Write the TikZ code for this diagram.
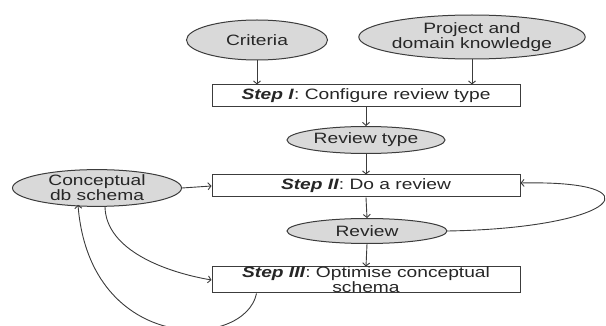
\documentclass[tikz,border=0pt]{standalone}
\usepackage{fontspec}
\setmainfont{Liberation Sans}[FakeStretch=1.28]
\usepackage{tikz}
\usetikzlibrary{calc, shapes.geometric, arrows.meta}
\definecolor{EdgeGrey}{RGB}{ 60, 60, 60}
\definecolor{BlobGrey}{RGB}{ 217, 217, 217}

\begin{document}
\begin{tikzpicture}[x=1pt, y=-1pt]
      \tikzstyle{blob}=[draw=EdgeGrey, line width=1pt, fill=BlobGrey, ellipse, inner sep=0pt, align=center];
      \tikzstyle{stepbox}=[draw=EdgeGrey, line width=1pt, fill=white, rectangle, inner sep=0pt, minimum width=308pt, align=center];
      \tikzstyle{flow}=[draw=EdgeGrey, line width=0.9pt, -{Straight Barb[length=3pt, width=7pt]}];

      \useasboundingbox (0, 0) rectangle (606, 326);
      \fontsize{15}{13}\selectfont
      \color{black!85}

      % inputs
      \node[blob, minimum width=141pt, minimum height=40pt] (criteria) at (257, 40) {Criteria};
      \node[blob, minimum width=190pt, minimum height=44pt] (project) at (472, 37) {Project and\\domain knowledge};

      % main column
      \node[stepbox, minimum height=22pt] (step1) at (366, 96) {\textbf{\textit{Step I}}: Configure review type};
      \node[blob, minimum width=158pt, minimum height=27pt] (rtype) at (366, 140) {Review type};
      \node[stepbox, minimum height=22pt] (step2) at (366, 186) {\textbf{\textit{Step II}}: Do a review};
      \node[blob, minimum width=160pt, minimum height=25pt] (review) at (367, 231) {Review};
      \node[stepbox, minimum height=26pt] (step3) at (366, 280) {\textbf{\textit{Step III}}: Optimise conceptual\\schema};

      \node[blob, minimum width=169pt, minimum height=36pt] (concept) at (97, 188) {Conceptual\\db schema};

      % arrows
      \draw[flow] (criteria.south) -- (criteria.south |- step1.north);
      \draw[flow] (project.south) -- (project.south |- step1.north);
      \draw[flow] (step1.south) -- (rtype.north);
      \draw[flow] (rtype.south) -- (step2.north);
      \draw[flow] (step2.south) -- (review.north);
      \draw[flow] (review.south) -- (step3.north);
      \draw[flow] (concept.east) -- (step2.west);
      \draw[flow] (review.east) .. controls (620, 228) and (660, 180) .. ($(step2.east)+(0, -3)$);
      \draw[flow] ($(concept.south)+(8, 0)$) .. controls (106, 250) and (165, 272) .. (step3.west);
      \draw[flow] ($(step3.south west)+(45, 0)$) .. controls (245, 350) and (90, 355) .. ($(concept.south)+(-19, -2)$);
    \end{tikzpicture}
\end{document}
